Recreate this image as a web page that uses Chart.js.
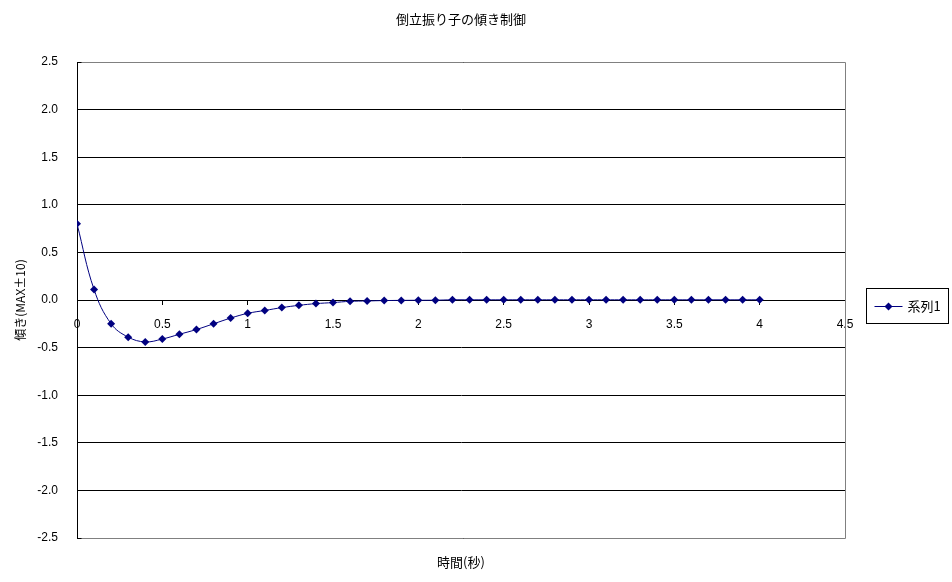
<!DOCTYPE html>
<html>
<head>
<meta charset="utf-8">
<script src="https://cdn.jsdelivr.net/npm/chart.js@4.4.0/dist/chart.umd.min.js"></script>
<style>
html,body{margin:0;padding:0;background:#fff;}
#wrap{width:952px;height:582px;position:relative;}
</style>
</head>
<body>
<div id="wrap"><canvas id="c" width="952" height="582"></canvas></div>
<script>
const chartTitle = '倒立振り子の傾き制御';
const xTitle = '時間(秒)';
const yTitle = '傾き(MAX±10)';
const seriesName = '系列1';
const times = [0,0.1,0.2,0.3,0.4,0.5,0.6,0.7,0.8,0.9,1.0,1.1,1.2,1.3,1.4,1.5,1.6,1.7,1.8,1.9,2.0,
  2.1,2.2,2.3,2.4,2.5,2.6,2.7,2.8,2.9,3.0,3.1,3.2,3.3,3.4,3.5,3.6,3.7,3.8,3.9,4.0];
const tilt = [0.80,0.11,-0.25,-0.39,-0.44,-0.41,-0.36,-0.31,-0.25,-0.19,-0.14,-0.11,-0.08,-0.056,-0.038,-0.027,-0.014,-0.010,-0.006,-0.004,-0.003,
  -0.002,0.002,0.002,0.002,0.002,0.002,0.002,0.002,0.002,0.002,0.002,0.002,0.002,0.002,0.002,0.002,0.002,0.002,0.002,0.002];
const xMin = 0, xMax = 4.5, xStep = 0.5;
const yMin = -2.5, yMax = 2.5, yStep = 0.5;

const FONT = '"Liberation Sans", "Noto Sans CJK JP", sans-serif';
const JFONT = '"Noto Sans CJK JP", "Liberation Sans", sans-serif';
const NAVY = '#000080';

const points = times.map((t, i) => ({x: t, y: tilt[i]}));

const framePlugin = {
  id: 'frame',
  beforeDatasetsDraw(chart) {
    const {ctx, chartArea: a} = chart;
    ctx.save();
    ctx.strokeStyle = '#808080';
    ctx.lineWidth = 1;
    const l = Math.round(a.left) + 0.5, r = Math.round(a.right) + 0.5;
    const t = Math.round(a.top) + 0.5, b = Math.round(a.bottom) + 0.5;
    ctx.beginPath();
    ctx.moveTo(l + 4, t); ctx.lineTo(r, t); ctx.lineTo(r, b); ctx.lineTo(l + 4, b);
    ctx.stroke();
    ctx.restore();
  },
  afterDraw(chart) {
    const {ctx, chartArea: a} = chart;
    const ds = chart.data.datasets[0];
    const bx = Math.round(a.right) + 21.5, by = Math.round((a.top + a.bottom) / 2) - 11.5;
    const bw = 82, bh = 35;
    ctx.save();
    ctx.fillStyle = '#fff';
    ctx.fillRect(bx, by, bw, bh);
    ctx.strokeStyle = '#000';
    ctx.lineWidth = 1;
    ctx.strokeRect(bx, by, bw, bh);
    const cy = Math.round(by + bh / 2) + 0.5;
    ctx.strokeStyle = ds.borderColor;
    ctx.beginPath();
    ctx.moveTo(bx + 8, cy); ctx.lineTo(bx + 36, cy);
    ctx.stroke();
    const mx = bx + 22;
    ctx.fillStyle = ds.pointBackgroundColor;
    ctx.beginPath();
    ctx.moveTo(mx, cy - 4); ctx.lineTo(mx + 4, cy); ctx.lineTo(mx, cy + 4); ctx.lineTo(mx - 4, cy);
    ctx.closePath(); ctx.fill();
    ctx.fillStyle = '#000';
    ctx.font = '13px ' + JFONT;
    ctx.textBaseline = 'middle';
    ctx.textAlign = 'left';
    ctx.fillText(ds.label, bx + 41, cy);
    ctx.restore();
  }
};

new Chart(document.getElementById('c'), {
  type: 'line',
  data: {
    datasets: [{
      label: seriesName,
      data: points,
      borderColor: NAVY,
      backgroundColor: NAVY,
      pointBackgroundColor: NAVY,
      pointBorderColor: NAVY,
      borderWidth: 1,
      pointStyle: 'rectRot',
      pointRadius: 4,
      pointBorderWidth: 0,
      tension: 0.4,
      fill: false
    }]
  },
  options: {
    responsive: false,
    animation: false,
    devicePixelRatio: 1,
    layout: {padding: {left: 0, right: 107, top: 0, bottom: 0}},
    plugins: {
      legend: {display: false},
      tooltip: {enabled: false},
      title: {
        display: true, text: chartTitle, fullSize: false,
        color: '#000', font: {family: JFONT, size: 13, weight: 'normal'},
        padding: {top: 11, bottom: 35.4}
      },
      subtitle: {
        display: true, text: xTitle, position: 'bottom', fullSize: false,
        color: '#000', font: {family: JFONT, size: 13, weight: 'normal'},
        padding: {top: 16, bottom: 12.4}
      }
    },
    scales: {
      x: {
        type: 'linear',
        position: {y: 0},
        min: xMin, max: xMax,
        afterFit(s) { s.height = 0; },
        ticks: {
          stepSize: xStep, color: '#000', maxRotation: 0, autoSkip: false,
          font: {family: FONT, size: 12}, padding: 13,
          callback: v => String(Number(v.toFixed(1)))
        },
        grid: {drawOnChartArea: false, drawTicks: true, tickLength: 4, color: '#000'},
        border: {display: true, color: '#000', width: 1}
      },
      y: {
        type: 'linear',
        min: yMin, max: yMax,
        afterFit(s) { s.width = 77; },
        ticks: {
          stepSize: yStep, color: '#000', padding: 19,
          font: {family: FONT, size: 12},
          callback: v => Number(v).toFixed(1)
        },
        grid: {color: '#000', lineWidth: 1, drawTicks: false},
        border: {display: true, color: '#000', width: 1},
        title: {
          display: true, text: yTitle, color: '#000',
          font: {family: JFONT, size: 12, weight: 'normal'},
          padding: {top: 13, bottom: 0}
        }
      }
    }
  },
  plugins: [framePlugin]
});
</script>
</body>
</html>
